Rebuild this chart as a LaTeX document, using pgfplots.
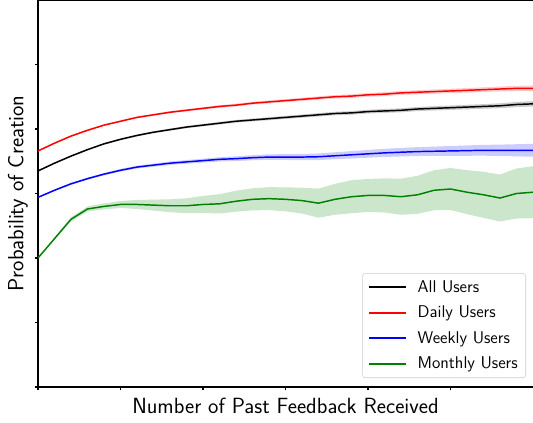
\documentclass[border=0pt]{standalone}
\usepackage{pgfplots}
\pgfplotsset{compat=1.18}
\usepackage{pgfplotstable}
\usepgfplotslibrary{fillbetween}
\definecolor{mplgreen}{RGB}{0,128,0}
\pgfplotstableread{
x all allE daily dailyE weekly weeklyE monthly monthlyE
0 3.35 0.010 3.66 0.010 2.94 0.010 2.00 0.000
1 3.47 0.010 3.78 0.010 3.05 0.012 2.30 0.016
2 3.58 0.012 3.89 0.012 3.15 0.015 2.60 0.031
3 3.68 0.012 3.98 0.012 3.23 0.016 2.76 0.039
4 3.77 0.013 4.06 0.013 3.30 0.018 2.80 0.047
5 3.84 0.014 4.12 0.014 3.36 0.020 2.83 0.054
6 3.90 0.015 4.18 0.015 3.41 0.022 2.83 0.070
7 3.95 0.016 4.22 0.016 3.44 0.024 2.82 0.085
8 3.99 0.017 4.26 0.017 3.47 0.026 2.81 0.100
9 4.03 0.018 4.29 0.018 3.49 0.028 2.81 0.116
10 4.06 0.019 4.32 0.019 3.51 0.030 2.83 0.132
11 4.09 0.020 4.35 0.020 3.53 0.033 2.84 0.150
12 4.12 0.021 4.37 0.021 3.54 0.036 2.88 0.163
13 4.14 0.022 4.40 0.022 3.555 0.039 2.91 0.171
14 4.16 0.023 4.42 0.023 3.565 0.042 2.92 0.178
15 4.18 0.024 4.44 0.024 3.565 0.045 2.91 0.186
16 4.20 0.025 4.46 0.025 3.565 0.048 2.89 0.200
17 4.22 0.026 4.48 0.026 3.57 0.051 2.85 0.225
18 4.24 0.027 4.50 0.027 3.585 0.054 2.91 0.240
19 4.25 0.028 4.51 0.028 3.60 0.057 2.95 0.256
20 4.27 0.029 4.53 0.029 3.615 0.060 2.97 0.256
21 4.28 0.030 4.54 0.030 3.63 0.063 2.97 0.264
22 4.29 0.031 4.56 0.031 3.64 0.066 2.95 0.280
23 4.31 0.032 4.57 0.032 3.65 0.069 2.98 0.295
24 4.32 0.033 4.58 0.033 3.655 0.072 3.05 0.310
25 4.33 0.034 4.59 0.034 3.66 0.076 3.07 0.326
26 4.34 0.035 4.60 0.035 3.665 0.080 3.02 0.341
27 4.35 0.036 4.61 0.036 3.67 0.084 2.98 0.357
28 4.36 0.038 4.62 0.038 3.67 0.088 2.93 0.364
29 4.38 0.040 4.63 0.040 3.67 0.094 3.00 0.388
30 4.39 0.042 4.63 0.042 3.67 0.100 3.02 0.403
}\data

\newcommand{\band}[2]{%
  \addplot[draw=none, name path=#1hi] table[x=x, y expr=\thisrow{#1}+\thisrow{#1E}] {\data};
  \addplot[draw=none, name path=#1lo] table[x=x, y expr=\thisrow{#1}-\thisrow{#1E}] {\data};
  \addplot[draw=none, fill=#2, fill opacity=0.2] fill between[of=#1hi and #1lo];
}

\pgfplotsset{base/.style={scale only axis, width=371.25pt, height=290.25pt,
  xmin=0, xmax=30, ymin=0, ymax=6}}

\begin{document}
\begin{tikzpicture}
% bands (separate overlaid axis, no legend)
\begin{axis}[base, hide axis]
\band{all}{black}
\band{daily}{red}
\band{weekly}{blue}
\band{monthly}{mplgreen}
\end{axis}
% lines, axes, labels, legend
\begin{axis}[base, name=ax,
  axis x line*=bottom, axis y line*=left,
  axis line style={-, line width=0.8pt},
  xtick={0,5,...,25}, ytick={0,1,...,5},
  xticklabels={}, yticklabels={},
  tick align=outside, major tick length=2.6pt,
  tick style={black, line width=0.8pt},
  xlabel={Number of Past Feedback Received},
  ylabel={Probability of Creation},
  label style={font=\sffamily\fontsize{16.5}{20}\selectfont},
  xlabel style={at={(rel axis cs:0.5,0)}, anchor=base, yshift=-19.5pt},
  ylabel style={at={(rel axis cs:0,0.5)}, anchor=center, yshift=15pt},
  legend style={at={(rel axis cs:1,0)}, anchor=south east, xshift=-5.25pt, yshift=6.75pt,
    draw=black!20, rounded corners=2pt, font=\sffamily\fontsize{12.75}{15}\selectfont,
    row sep=4.75pt, inner xsep=4pt, inner ysep=3.3pt, cells={anchor=west},
    column 2/.style={nodes={text height=9.5pt, text depth=3pt, inner ysep=0pt}}},
  legend image code/.code={\draw[#1, line width=1.4pt] (0pt,0pt) -- (28pt,0pt); \path (34pt,0pt);},
]
\addplot[black, line width=1.1pt] table[x=x, y=all] {\data};
\addlegendentry{All Users}
\addplot[red, line width=1.1pt] table[x=x, y=daily] {\data};
\addlegendentry{Daily Users}
\addplot[blue, line width=1.1pt] table[x=x, y=weekly] {\data};
\addlegendentry{Weekly Users}
\addplot[mplgreen, line width=1.1pt] table[x=x, y=monthly] {\data};
\addlegendentry{Monthly Users}
\end{axis}
\draw[line width=0.8pt] (ax.north west) -- (ax.north east);
\pgfresetboundingbox
\path[use as bounding box] ([xshift=-28.5pt,yshift=-26.25pt]ax.south west) rectangle (ax.north east);
\end{tikzpicture}
\end{document}
